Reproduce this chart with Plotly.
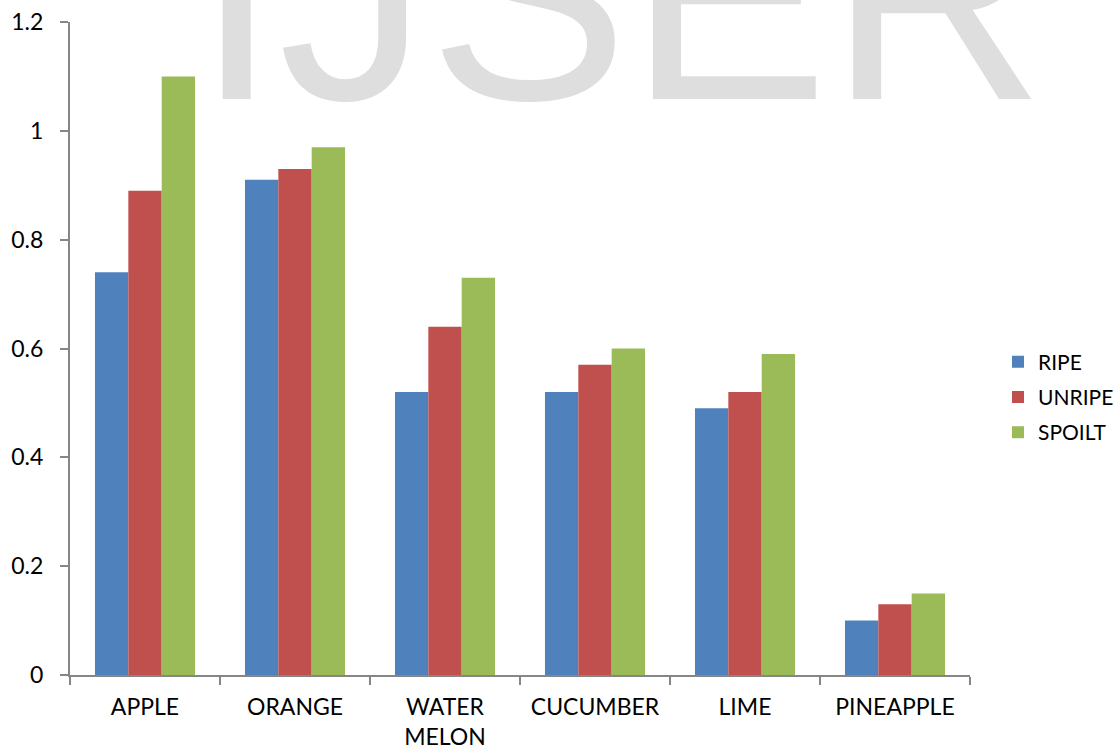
import plotly.graph_objects as go

categories = ["APPLE", "ORANGE", "WATER<br>MELON", "CUCUMBER", "LIME", "PINEAPPLE"]
ripe = [0.74, 0.91, 0.52, 0.52, 0.49, 0.10]
unripe = [0.89, 0.93, 0.64, 0.57, 0.52, 0.13]
spoilt = [1.10, 0.97, 0.73, 0.60, 0.59, 0.15]

series = [
    ("RIPE", ripe, "#4F81BD"),
    ("UNRIPE", unripe, "#C0504D"),
    ("SPOILT", spoilt, "#9BBB59"),
]

FONT = "Lato"
AXIS_COLOR = "#868686"

fig = go.Figure()
for name, vals, color in series:
    fig.add_trace(go.Bar(
        x=categories, y=vals, name=name, legendgroup=name,
        marker=dict(color=color, line=dict(width=0)),
    ))

fig.update_layout(
    width=1119, height=750,
    margin=dict(l=70, r=149, t=22, b=75),
    paper_bgcolor="white", plot_bgcolor="white",
    barmode="group", bargap=0.333, bargroupgap=0,
    font=dict(family=FONT, size=23, color="#000000"),
    showlegend=True,
    legend=dict(
        xref="container", yref="container",
        x=998 / 1119, xanchor="left", y=(750 - 397) / 750, yanchor="middle",
        font=dict(family=FONT, size=21, color="#000000"),
        itemwidth=30, tracegroupgap=5, traceorder="grouped",
    ),
    xaxis=dict(
        showline=True, linecolor=AXIS_COLOR, linewidth=2,
        ticks="outside", ticklen=8, tickcolor=AXIS_COLOR, tickwidth=2,
        tickson="boundaries", showgrid=False, zeroline=False,
        ticklabelstandoff=10, automargin=False,
    ),
    yaxis=dict(
        range=[0, 1.2], dtick=0.2, tick0=0,
        showline=True, linecolor=AXIS_COLOR, linewidth=2,
        ticks="outside", ticklen=8, tickcolor=AXIS_COLOR, tickwidth=2,
        showgrid=False, zeroline=False,
        ticklabelstandoff=12, automargin=False,
    ),
    annotations=[dict(
        text="IJSER", xref="paper", yref="paper",
        x=(620 - 70) / 900, y=1.0, xanchor="center", yanchor="top",
        yshift=197, showarrow=False,
        font=dict(family="Liberation Sans", size=300, color="#DEDEDE"),
    )],
)

fig.write_html("out.html")
